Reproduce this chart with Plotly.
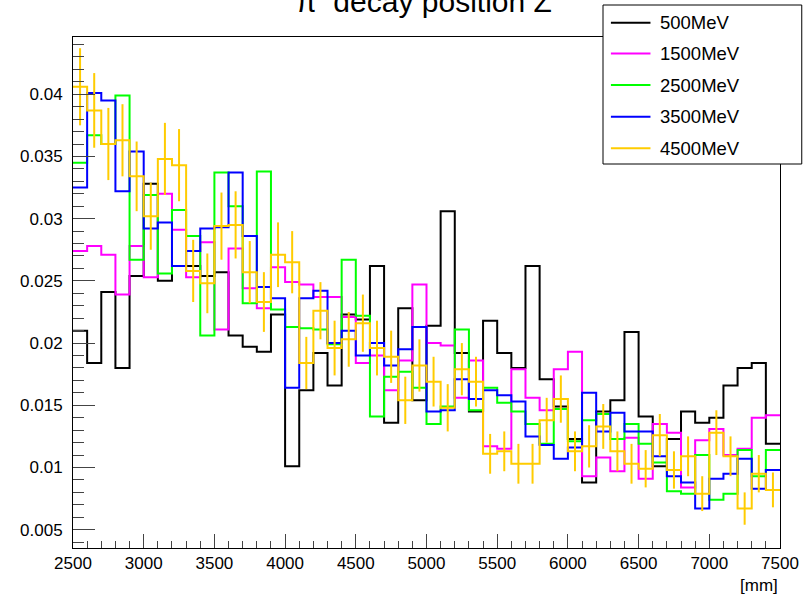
import plotly.graph_objects as go

# ---------------- data ----------------
bin_edges = list(range(2500, 7501, 100))          # 50 bins of 100 mm
bin_centers = [e + 50 for e in bin_edges[:-1]]

series_names = ["500MeV", "1500MeV", "2500MeV", "3500MeV", "4500MeV"]
series_colors = ["#000000", "#ff00ff", "#00ff00", "#0000ff", "#ffcc00"]

v500 = [0.0210, 0.0184, 0.0241, 0.0180, 0.0254, 0.0328, 0.0250, 0.0262, 0.0262, 0.0254,
        0.0257, 0.0206, 0.0197, 0.0193, 0.0223, 0.0101, 0.0162, 0.0192, 0.0166, 0.0223,
        0.0219, 0.0262, 0.0136, 0.0228, 0.0154, 0.0214, 0.0306, 0.0192, 0.0145, 0.0218,
        0.0192, 0.0180, 0.0262, 0.0171, 0.0149, 0.0123, 0.0088, 0.0145, 0.0154, 0.0209,
        0.0141, 0.0101, 0.0123, 0.0145, 0.0136, 0.0140, 0.0166, 0.0180, 0.0184, 0.0119]

v1500 = [0.0274, 0.0278, 0.0271, 0.0239, 0.0278, 0.0253, 0.0320, 0.0291, 0.0253, 0.0281,
         0.0211, 0.0276, 0.0244, 0.0228, 0.0261, 0.0249, 0.0247, 0.0237, 0.0237, 0.0221,
         0.0184, 0.0190, 0.0162, 0.0186, 0.0247, 0.0200, 0.0198, 0.0156, 0.0186, 0.0117,
         0.0115, 0.0179, 0.0156, 0.0146, 0.0179, 0.0193, 0.0093, 0.0108, 0.0097, 0.0124,
         0.0091, 0.0135, 0.0128, 0.0084, 0.0122, 0.0131, 0.0110, 0.0115, 0.0140, 0.0142]

v2500 = [0.0345, 0.0367, 0.0360, 0.0399, 0.0267, 0.0319, 0.0256, 0.0307, 0.0286, 0.0206,
         0.0337, 0.0310, 0.0232, 0.0338, 0.0227, 0.0213, 0.0212, 0.0211, 0.0199, 0.0267,
         0.0222, 0.0141, 0.0173, 0.0177, 0.0164, 0.0135, 0.0149, 0.0211, 0.0146, 0.0164,
         0.0152, 0.0145, 0.0135, 0.0119, 0.0147, 0.0121, 0.0138, 0.0143, 0.0123, 0.0135,
         0.0119, 0.0104, 0.0081, 0.0079, 0.0110, 0.0074, 0.0079, 0.0114, 0.0093, 0.0114]

v3500 = [0.0325, 0.0401, 0.0395, 0.0322, 0.0354, 0.0292, 0.0297, 0.0262, 0.0274, 0.0292,
         0.0293, 0.0337, 0.0286, 0.0245, 0.0236, 0.0164, 0.0236, 0.0242, 0.0200, 0.0210,
         0.0190, 0.0200, 0.0182, 0.0195, 0.0213, 0.0145, 0.0146, 0.0171, 0.0155, 0.0162,
         0.0158, 0.0153, 0.0125, 0.0118, 0.0107, 0.0116, 0.0160, 0.0129, 0.0144, 0.0129,
         0.0129, 0.0109, 0.0093, 0.0088, 0.0067, 0.0091, 0.0095, 0.0107, 0.0083, 0.0098]

v4500 = [0.0406, 0.0387, 0.0360, 0.0363, 0.0334, 0.0302, 0.0348, 0.0343, 0.0258, 0.0248,
         0.0294, 0.0295, 0.0257, 0.0233, 0.0271, 0.0265, 0.0184, 0.0226, 0.0196, 0.0203,
         0.0216, 0.0196, 0.0189, 0.0154, 0.0182, 0.0169, 0.0148, 0.0179, 0.0169, 0.0111,
         0.0113, 0.0103, 0.0103, 0.0138, 0.0155, 0.0113, 0.0117, 0.0133, 0.0113, 0.0103,
         0.0099, 0.0126, 0.0098, 0.0109, 0.0079, 0.0128, 0.0109, 0.0067, 0.0095, 0.0082]

err4500 = [0.0031, 0.0030, 0.0029, 0.0029, 0.0028, 0.0027, 0.0029, 0.0029, 0.0025, 0.0024,
           0.0027, 0.0027, 0.0025, 0.0024, 0.0026, 0.0025, 0.0021, 0.0023, 0.0022, 0.0022,
           0.0023, 0.0022, 0.0021, 0.0019, 0.0021, 0.0020, 0.0019, 0.0021, 0.0020, 0.0016,
           0.0016, 0.0016, 0.0016, 0.0018, 0.0019, 0.0016, 0.0017, 0.0018, 0.0016, 0.0016,
           0.0015, 0.0017, 0.0015, 0.0016, 0.0014, 0.0018, 0.0016, 0.0013, 0.0015, 0.0014]

series_values = [v500, v1500, v2500, v3500, v4500]

title_text = "π\u00a0\u00a0decay position Z"
x_unit = "[mm]"

# ---------------- layout geometry (pixels) ----------------
W, H = 811, 597
L, R, T, B = 73, 23, 37, 49
PW, PH = W - L - R, H - T - B


def px(xp):
    return (xp - L) / PW


def py(yp):
    return (H - B - yp) / PH


FONT = "Liberation Sans, Arial, Helvetica, sans-serif"

fig = go.Figure()

for name, vals, col in zip(series_names, series_values, series_colors):
    fig.add_trace(go.Scatter(
        x=bin_edges, y=vals + [vals[-1]], mode="lines", name=name,
        line=dict(shape="hv", color=col, width=2), showlegend=False,
    ))

fig.add_trace(go.Scatter(
    x=bin_centers, y=v4500, mode="markers", name="4500MeV errors",
    marker=dict(size=0, color="rgba(0,0,0,0)", line=dict(width=0)),
    error_y=dict(type="data", array=err4500, width=0, thickness=2, color="#ffcc00"),
    showlegend=False, hoverinfo="skip",
))

# ---------------- manual ROOT-like legend ----------------
shapes = [dict(type="rect", xref="paper", yref="paper",
               x0=px(609), x1=px(810), y0=py(164), y1=py(5),
               line=dict(color="#000000", width=1), fillcolor="white", layer="above")]
annotations = []
row_y = [22.7, 53.5, 85.0, 116.7, 148.3]
for name, col, ry in zip(series_names, series_colors, row_y):
    shapes.append(dict(type="line", xref="paper", yref="paper",
                       x0=px(617), x1=px(657), y0=py(ry), y1=py(ry),
                       line=dict(color=col, width=2), layer="above"))
    annotations.append(dict(xref="paper", yref="paper", x=px(665), y=py(ry),
                            xanchor="left", yanchor="middle", text=name, showarrow=False,
                            font=dict(family=FONT, size=18.5, color="black")))

annotations.append(dict(xref="paper", yref="paper", x=px(297), y=py(2),
                        xanchor="left", yanchor="middle", text=title_text, showarrow=False,
                        font=dict(family=FONT, size=30, color="black")))
annotations.append(dict(xref="paper", yref="paper", x=px(788), y=py(585),
                        xanchor="right", yanchor="middle", text=x_unit, showarrow=False,
                        font=dict(family=FONT, size=17, color="black")))

fig.update_layout(
    width=W, height=H,
    margin=dict(l=L, r=R, t=T, b=B, pad=0),
    paper_bgcolor="white", plot_bgcolor="white",
    font=dict(family=FONT, size=17, color="black"),
    showlegend=False,
    shapes=shapes, annotations=annotations,
)

fig.update_xaxes(
    range=[2500, 7500], dtick=500, tick0=2500, showgrid=False, zeroline=False,
    showline=True, mirror=True, linecolor="#000000", linewidth=1,
    ticks="inside", ticklen=14, tickcolor="#444444", tickwidth=1,
    minor=dict(ticks="inside", dtick=100, ticklen=7, tickcolor="#444444", showgrid=False),
    tickfont=dict(family=FONT, size=17, color="black"), ticklabelstandoff=0,
)
fig.update_yaxes(
    range=[0.00353, 0.0446], dtick=0.005, tick0=0, showgrid=False, zeroline=False,
    showline=True, mirror=True, linecolor="#000000", linewidth=1,
    ticks="inside", ticklen=22, tickcolor="#444444", tickwidth=1,
    minor=dict(ticks="inside", dtick=0.001, ticklen=11, tickcolor="#444444", showgrid=False),
    tickfont=dict(family=FONT, size=17, color="black"), ticklabelstandoff=6,
)

fig.write_html("out.html")
